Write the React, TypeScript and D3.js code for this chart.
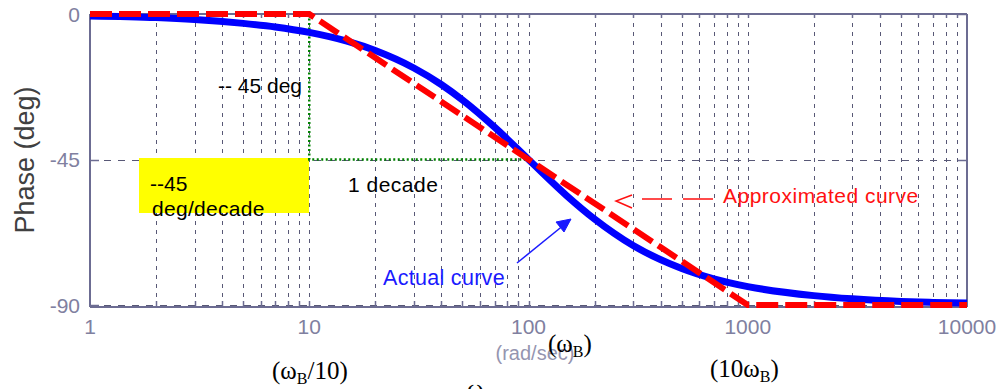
import * as d3 from "d3";

// frequency (rad/sec) and phase (deg)
const actualFreq = [1, 2, 3, 5, 7, 10, 15, 20, 30, 40, 50, 70, 100, 150, 200, 300, 500, 700, 1000, 2000, 3000, 5000, 7000, 10000];
const actualPhase = [-0.6, -1.1, -1.7, -2.9, -4.0, -5.7, -8.5, -11.3, -16.7, -21.8, -26.6, -35.0, -45.0, -56.3, -63.4, -71.6, -78.7, -81.9, -84.3, -87.1, -88.1, -88.9, -89.2, -89.4];

const approxFreq = [1, 10, 1000, 10000];
const approxPhase = [0, 0, -90, -90];

const xTicks = [1, 10, 100, 1000, 10000];
const yTicks = [0, -45, -90];

const W = 1000;
const H = 389;
const left = 90;
const right = 967;
const top = 14;
const bottom = 305;

const sans = "'Liberation Sans', Arial, sans-serif";
const serif = "'Liberation Serif', 'Times New Roman', serif";

// snap to pixel centre so 1px lines stay sharp
const px = (v: number) => Math.round(v) + 0.5;

export default function App() {
  const x = d3.scaleLog().domain([1, 10000]).range([left, right]);
  const y = d3.scaleLinear().domain([-90, 0]).range([bottom, top]);

  // minor + major log grid positions
  const gridX: number[] = [];
  for (let dec = 1; dec < 10000; dec *= 10) {
    for (let k = 1; k < 10; k++) {
      const v = dec * k;
      if (v > 1) gridX.push(v);
    }
  }

  const line = d3
    .line<[number, number]>()
    .x((d) => x(d[0]))
    .y((d) => y(d[1]))
    .curve(d3.curveMonotoneX);

  const straight = d3
    .line<[number, number]>()
    .x((d) => x(d[0]))
    .y((d) => y(d[1]));

  const actual = actualFreq.map((f, i) => [f, actualPhase[i]] as [number, number]);
  const approx = approxFreq.map((f, i) => [f, approxPhase[i]] as [number, number]);

  const axisCol = "#6c6c92";
  const labelCol = "#8080a0";
  const gridCol = "#585876";

  return (
    <svg
      width={W}
      height={H}
      style={{ position: "absolute", left: 0, top: 0, background: "#fff" }}
    >
      {/* vertical grid */}
      {gridX.map((v) => (
        <line
          key={"gx" + v}
          x1={px(x(v))}
          x2={px(x(v))}
          y1={top}
          y2={bottom}
          stroke={gridCol}
          strokeWidth={1}
          strokeDasharray="4,5"
        />
      ))}
      {/* horizontal grid */}
      {yTicks.slice(1).map((v) => (
        <line
          key={"gy" + v}
          x1={left}
          x2={right}
          y1={px(y(v))}
          y2={px(y(v))}
          stroke={gridCol}
          strokeWidth={1}
          strokeDasharray="7,7"
        />
      ))}

      {/* frame */}
      <line x1={left} x2={right} y1={top} y2={top} stroke={axisCol} strokeWidth={2} />
      <line x1={right} x2={right} y1={top} y2={bottom + 2} stroke={axisCol} strokeWidth={2} />
      <line x1={left} x2={right} y1={bottom + 2} y2={bottom + 2} stroke={axisCol} strokeWidth={2} />
      <line x1={left} x2={left} y1={top} y2={bottom + 2} stroke={axisCol} strokeWidth={2} />

      {/* ticks */}
      {gridX.map((v) => (
        <g key={"t" + v}>
          <line x1={px(x(v))} x2={px(x(v))} y1={bottom + 2} y2={bottom - 4} stroke={axisCol} strokeWidth={1.5} />
          <line x1={px(x(v))} x2={px(x(v))} y1={top} y2={top + 4} stroke={axisCol} strokeWidth={1.5} />
        </g>
      ))}
      {yTicks.map((v) => (
        <g key={"yt" + v}>
          <line x1={left} x2={left + 9} y1={px(y(v))} y2={px(y(v))} stroke={axisCol} strokeWidth={1.5} />
          <line x1={right} x2={right - 9} y1={px(y(v))} y2={px(y(v))} stroke={axisCol} strokeWidth={1.5} />
        </g>
      ))}

      {/* yellow annotation box */}
      <rect x={139} y={158} width={170} height={55} fill="#ffff00" />
      <text x={150} y={191} fontFamily={sans} fontSize={21} fill="#000">--45</text>
      <text x={152} y={216} fontFamily={sans} fontSize={21} letterSpacing={0.3} fill="#000">deg/decade</text>

      {/* green dotted construction lines */}
      <path
        d={`M${x(10)},${y(0)} L${x(10)},${y(-45)} L${x(100)},${y(-45)}`}
        fill="none"
        stroke="#008000"
        strokeWidth={2.5}
        strokeDasharray="2,2.5"
      />
      <text x={218} y={93} fontFamily={sans} fontSize={21} fill="#000">-- 45 deg</text>
      <text x={348} y={192} fontFamily={sans} fontSize={21} letterSpacing={0.5} fill="#000">1 decade</text>

      {/* curves */}
      <path d={line(actual) ?? ""} fill="none" stroke="#0000ff" strokeWidth={7} />
      <path
        d={straight(approx) ?? ""}
        fill="none"
        stroke="#ff0000"
        strokeWidth={6}
        strokeDasharray="22,7"
      />

      {/* actual curve label + arrow */}
      <text x={383} y={285} fontFamily={sans} fontSize={21.5} letterSpacing={0.3} fill="#1a1aff">Actual curve</text>
      <path d="M517,263 L570,220" stroke="#1a1aff" strokeWidth={1.5} fill="none" />
      <path d="M556,222 L571,219 L564,232 Z" fill="#1a1aff" stroke="#1a1aff" strokeWidth={1} />

      {/* approximated curve label + arrow */}
      <text x={723} y={203} fontFamily={sans} fontSize={21} letterSpacing={0.5} fill="#ff1010">Approximated curve</text>
      <line x1={713} x2={640} y1={199} y2={199} stroke="#ff1010" strokeWidth={1.5} strokeDasharray="30,11" />
      <path d="M632,195 L616,201 L632,208" stroke="#ff1010" strokeWidth={1.5} fill="none" />

      {/* y tick labels */}
      {yTicks.map((v) => (
        <text
          key={"yl" + v}
          x={80}
          y={y(v)}
          dy="0.36em"
          textAnchor="end"
          fontFamily={sans}
          fontSize={21}
          fill={labelCol}
        >
          {v}
        </text>
      ))}
      {/* x tick labels */}
      {xTicks.map((v) => (
        <text
          key={"xl" + v}
          x={x(v)}
          y={334}
          textAnchor="middle"
          fontFamily={sans}
          fontSize={21}
          fill={labelCol}
        >
          {v}
        </text>
      ))}
      <text x={535} y={360} textAnchor="middle" fontFamily={sans} fontSize={20} fill="#9595b0">(rad/sec)</text>

      {/* y axis label */}
      <text
        transform="translate(34,160) rotate(-90)"
        textAnchor="middle"
        fontFamily={sans}
        fontSize={27}
        fill="#404040"
      >
        Phase (deg)
      </text>

      {/* Times annotations under the axis */}
      <text x={548} y={352} fontFamily={serif} fontSize={25} fill="#000">
        (ω<tspan fontSize={16} dy={5}>B</tspan><tspan dy={-5}>)</tspan>
      </text>
      <text x={272} y={379} fontFamily={serif} fontSize={25} fill="#000">
        (ω<tspan fontSize={16} dy={5}>B</tspan><tspan dy={-5}>/10)</tspan>
      </text>
      <text x={710} y={377} fontFamily={serif} fontSize={25} fill="#000">
        (10ω<tspan fontSize={16} dy={5}>B</tspan><tspan dy={-5}>)</tspan>
      </text>
      <text x={467} y={397} fontFamily={serif} fontSize={25} fill="#000">ω</text>
    </svg>
  );
}
